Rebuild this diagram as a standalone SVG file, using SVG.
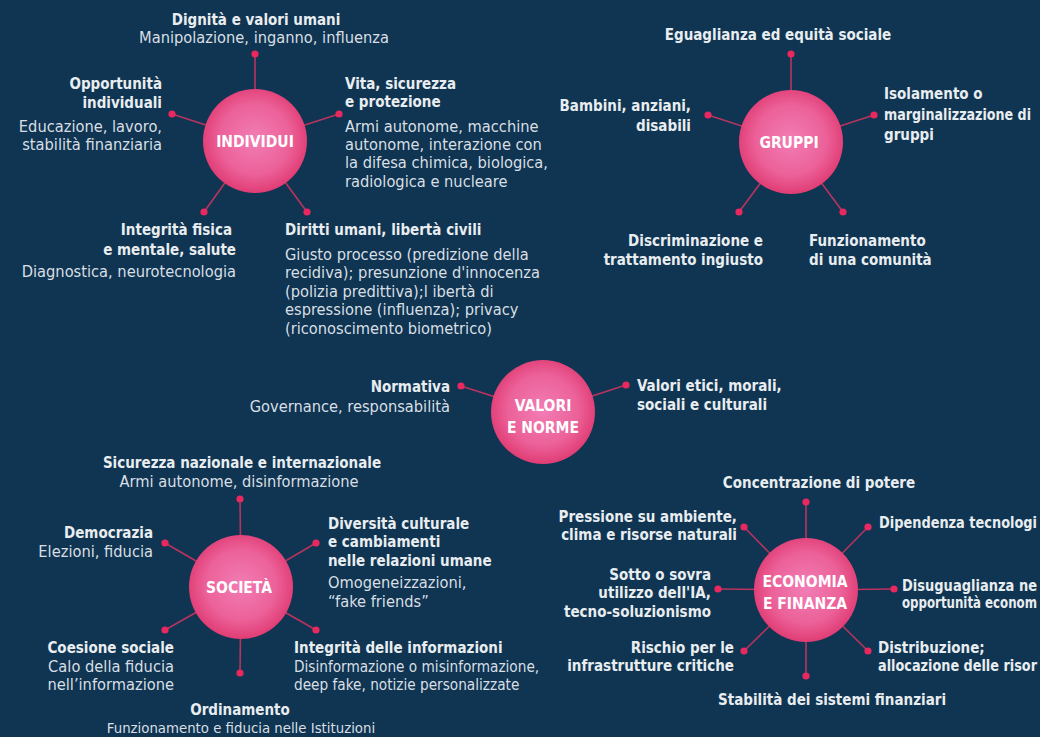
<svg xmlns="http://www.w3.org/2000/svg" width="1040" height="737" viewBox="0 0 1040 737">
<defs>
<radialGradient id="pink" cx="50%" cy="48%" r="52%">
<stop offset="0" stop-color="#f27db5"/>
<stop offset="0.65" stop-color="#ec6199"/>
<stop offset="1" stop-color="#e03d74"/>
</radialGradient>
<style>
.hub{fill:url(#pink)}
.ht{font-family:"DejaVu Sans Condensed","DejaVu Sans",sans-serif;font-weight:bold;font-size:15.5px;fill:#ffffff;text-anchor:middle}
.h{font-family:"DejaVu Sans Condensed","DejaVu Sans",sans-serif;font-weight:bold;font-size:15px;fill:#e9edf0}
.t{font-family:"DejaVu Sans Condensed","DejaVu Sans",sans-serif;font-size:16.3px;fill:#d9dfe4}
.e{text-anchor:end}
.m{text-anchor:middle}
#connectors line{stroke:#b8345f;stroke-width:1.6}
#connectors circle{fill:#e8285f}
</style>
</defs>
<rect width="1040" height="737" fill="#0f3552"/>
<g id="connectors">
<line x1="255" y1="141" x2="255" y2="54"/><line x1="255" y1="141" x2="172" y2="114"/><line x1="255" y1="141" x2="339" y2="114"/><line x1="255" y1="141" x2="204" y2="212"/><line x1="255" y1="141" x2="307" y2="212"/>
<line x1="791" y1="142" x2="791" y2="54"/><line x1="791" y1="142" x2="708" y2="115"/><line x1="791" y1="142" x2="874" y2="115"/><line x1="791" y1="142" x2="739" y2="212"/><line x1="791" y1="142" x2="843" y2="212"/>
<line x1="543" y1="412" x2="461" y2="386"/><line x1="543" y1="412" x2="626" y2="385"/>
<line x1="241" y1="587" x2="240" y2="499"/><line x1="241" y1="587" x2="165" y2="543"/><line x1="241" y1="587" x2="316" y2="543"/><line x1="241" y1="587" x2="165" y2="630"/><line x1="241" y1="587" x2="316" y2="630"/><line x1="241" y1="587" x2="240" y2="673"/>
<line x1="806" y1="590" x2="806" y2="502"/><line x1="806" y1="590" x2="744" y2="527"/><line x1="806" y1="590" x2="868" y2="527"/><line x1="806" y1="590" x2="718" y2="589"/><line x1="806" y1="590" x2="894" y2="589"/><line x1="806" y1="590" x2="744" y2="651"/><line x1="806" y1="590" x2="868" y2="651"/><line x1="806" y1="590" x2="806" y2="676"/>
<circle cx="255" cy="54" r="3.6"/><circle cx="172" cy="114" r="3.6"/><circle cx="339" cy="114" r="3.6"/><circle cx="204" cy="212" r="3.6"/><circle cx="307" cy="212" r="3.6"/>
<circle cx="791" cy="54" r="3.6"/><circle cx="708" cy="115" r="3.6"/><circle cx="874" cy="115" r="3.6"/><circle cx="739" cy="212" r="3.6"/><circle cx="843" cy="212" r="3.6"/>
<circle cx="461" cy="386" r="3.6"/><circle cx="626" cy="385" r="3.6"/>
<circle cx="240" cy="499" r="3.6"/><circle cx="165" cy="543" r="3.6"/><circle cx="316" cy="543" r="3.6"/><circle cx="165" cy="630" r="3.6"/><circle cx="316" cy="630" r="3.6"/><circle cx="240" cy="673" r="3.6"/>
<circle cx="806" cy="502" r="3.6"/><circle cx="744" cy="527" r="3.6"/><circle cx="868" cy="527" r="3.6"/><circle cx="718" cy="589" r="3.6"/><circle cx="894" cy="589" r="3.6"/><circle cx="744" cy="651" r="3.6"/><circle cx="868" cy="651" r="3.6"/><circle cx="806" cy="676" r="3.6"/>
</g>
<g id="individui"><circle class="hub" cx="255" cy="141" r="52"/><text class="ht" x="255" y="147">INDIVIDUI</text></g>
<g id="gruppi"><circle class="hub" cx="791" cy="142" r="52"/><text class="ht" x="789" y="148">GRUPPI</text></g>
<g id="valori"><circle class="hub" cx="543" cy="412" r="52"/><text class="ht" x="543" y="411">VALORI</text><text class="ht" x="543" y="433">E NORME</text></g>
<g id="societa"><circle class="hub" cx="241" cy="587" r="52"/><text class="ht" x="239" y="593">SOCIETÀ</text></g>
<g id="economia"><circle class="hub" cx="806" cy="590" r="52"/><text class="ht" x="805" y="587">ECONOMIA</text><text class="ht" x="805" y="609">E FINANZA</text></g>

<g id="ind-dignita"><text class="h m" x="256" y="25">Dignità e valori umani</text><text class="t m" x="264" y="43">Manipolazione, inganno, influenza</text></g>
<g id="ind-opportunita"><text class="h e" x="162" y="89">Opportunità</text><text class="h e" x="162" y="108">individuali</text><text class="t e" x="162" y="132">Educazione, lavoro,</text><text class="t e" x="162" y="150">stabilità finanziaria</text></g>
<g id="ind-vita"><text class="h" x="345" y="89">Vita, sicurezza</text><text class="h" x="345" y="107">e protezione</text><text class="t" x="345" y="132">Armi autonome, macchine</text><text class="t" x="345" y="150">autonome, interazione con</text><text class="t" x="345" y="168">la difesa chimica, biologica,</text><text class="t" x="345" y="187">radiologica e nucleare</text></g>
<g id="ind-integrita"><text class="h e" x="232" y="235">Integrità fisica</text><text class="h e" x="236" y="255">e mentale, salute</text><text class="t e" x="236" y="277">Diagnostica, neurotecnologia</text></g>
<g id="ind-diritti"><text class="h" x="285" y="235">Diritti umani, libertà civili</text><text class="t" x="285" y="260">Giusto processo (predizione della</text><text class="t" x="285" y="278">recidiva); presunzione d'innocenza</text><text class="t" x="285" y="297">(polizia predittiva);l ibertà di</text><text class="t" x="285" y="315">espressione (influenza); privacy</text><text class="t" x="285" y="334">(riconoscimento biometrico)</text></g>

<g id="gru-eguaglianza"><text class="h m" x="778" y="40">Eguaglianza ed equità sociale</text></g>
<g id="gru-bambini"><text class="h e" x="691" y="111">Bambini, anziani,</text><text class="h e" x="691" y="131">disabili</text></g>
<g id="gru-isolamento"><text class="h" x="884" y="99">Isolamento o</text><text class="h" x="884" y="120" textLength="147" lengthAdjust="spacingAndGlyphs">marginalizzazione di</text><text class="h" x="884" y="140">gruppi</text></g>
<g id="gru-discriminazione"><text class="h e" x="763" y="246">Discriminazione e</text><text class="h e" x="763" y="265">trattamento ingiusto</text></g>
<g id="gru-funzionamento"><text class="h" x="809" y="246">Funzionamento</text><text class="h" x="809" y="265">di una comunità</text></g>

<g id="val-normativa"><text class="h e" x="450" y="392">Normativa</text><text class="t e" x="450" y="412">Governance, responsabilità</text></g>
<g id="val-valori"><text class="h" x="637" y="391">Valori etici, morali,</text><text class="h" x="637" y="410">sociali e culturali</text></g>

<g id="soc-sicurezza"><text class="h m" x="242" y="468">Sicurezza nazionale e internazionale</text><text class="t m" x="239" y="487">Armi autonome, disinformazione</text></g>
<g id="soc-democrazia"><text class="h e" x="153" y="538">Democrazia</text><text class="t e" x="153" y="557">Elezioni, fiducia</text></g>
<g id="soc-diversita"><text class="h" x="328" y="529">Diversità culturale</text><text class="h" x="328" y="547">e cambiamenti</text><text class="h" x="328" y="566">nelle relazioni umane</text><text class="t" x="328" y="588">Omogeneizzazioni,</text><text class="t" x="328" y="607">“fake friends”</text></g>
<g id="soc-coesione"><text class="h e" x="174" y="653">Coesione sociale</text><text class="t e" x="174" y="672">Calo della fiducia</text><text class="t e" x="174" y="690">nell’informazione</text></g>
<g id="soc-informazioni"><text class="h" x="294" y="653">Integrità delle informazioni</text><text class="t" x="294" y="672" style="font-size:15.2px">Disinformazione o misinformazione,</text><text class="t" x="294" y="690" style="font-size:15.2px">deep fake, notizie personalizzate</text></g>
<g id="soc-ordinamento"><text class="h m" x="240" y="715">Ordinamento</text><text class="t m" x="241" y="733" style="font-size:14.8px">Funzionamento e fiducia nelle Istituzioni</text></g>

<g id="eco-concentrazione"><text class="h m" x="819" y="488">Concentrazione di potere</text></g>
<g id="eco-pressione"><text class="h e" x="737" y="522">Pressione su ambiente,</text><text class="h e" x="737" y="540">clima e risorse naturali</text></g>
<g id="eco-dipendenza"><text class="h" x="879" y="528" textLength="158" lengthAdjust="spacingAndGlyphs">Dipendenza tecnologi</text></g>
<g id="eco-sotto"><text class="h e" x="711" y="580">Sotto o sovra</text><text class="h e" x="711" y="598">utilizzo dell'IA,</text><text class="h e" x="711" y="617">tecno-soluzionismo</text></g>
<g id="eco-disuguaglianza"><text class="h" x="902" y="591" textLength="135" lengthAdjust="spacingAndGlyphs">Disuguaglianza ne</text><text class="h" x="902" y="608" textLength="135" lengthAdjust="spacingAndGlyphs">opportunità econom</text></g>
<g id="eco-rischio"><text class="h e" x="734" y="653">Rischio per le</text><text class="h e" x="734" y="671">infrastrutture critiche</text></g>
<g id="eco-distribuzione"><text class="h" x="878" y="653">Distribuzione;</text><text class="h" x="878" y="671" textLength="159" lengthAdjust="spacingAndGlyphs">allocazione delle risor</text></g>
<g id="eco-stabilita"><text class="h m" x="832" y="705">Stabilità dei sistemi finanziari</text></g>
</svg>
